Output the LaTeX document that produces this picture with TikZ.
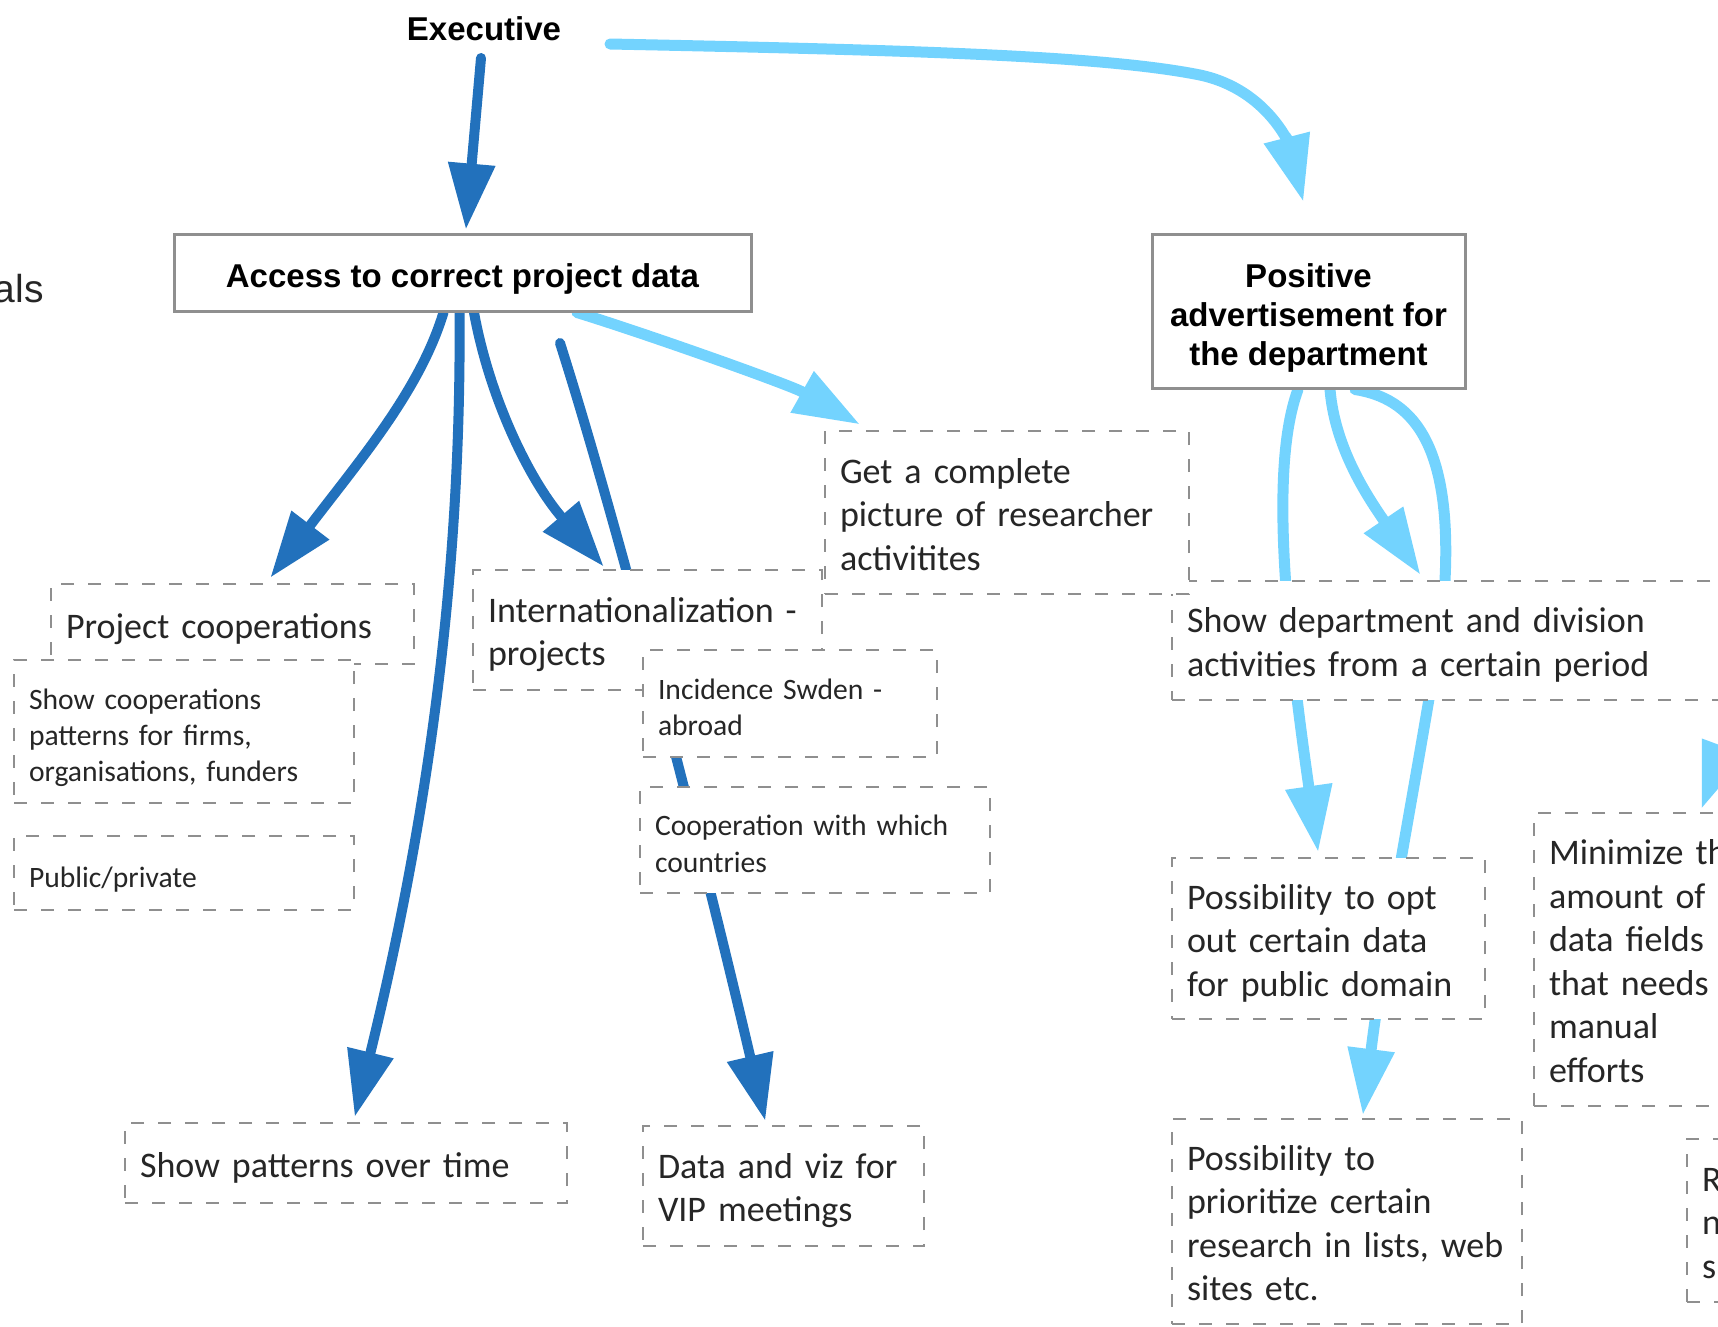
\documentclass[tikz,border=0pt]{standalone}
\usepackage{fontspec}
\setmainfont{Carlito}
\newfontfamily\headfont{Liberation Sans}
\usetikzlibrary{arrows.meta,calc}
\pgfdeclarelayer{bg}
\pgfsetlayers{bg,main}
\definecolor{dkblue}{RGB}{34,113,188}
\definecolor{ltblue}{RGB}{115,211,254}
\definecolor{boxgray}{RGB}{143,143,143}
\definecolor{txtgray}{RGB}{38,38,38}
\begin{document}
\begin{tikzpicture}[x=1pt,y=-1pt,
  dbox/.style={draw=boxgray, line width=2.5pt, dash pattern=on 13pt off 14pt, fill=white, inner xsep=15pt, inner ysep=0pt, align=left, text=txtgray, font=\fontsize{36}{43.5}\selectfont,
    execute at begin node={\rule{0pt}{36.2pt}}, execute at end node={\rule[-8pt]{0pt}{8pt}}},
  sbox/.style={dbox, font=\fontsize{29.6}{36.3}\selectfont,
    execute at begin node={\rule{0pt}{29.6pt}}, execute at end node={\rule[-6.6pt]{0pt}{6.6pt}}},
  headbox/.style={draw=boxgray, line width=3pt, fill=white, inner sep=0pt, align=center, font=\headfont\bfseries\fontsize{33}{39}\selectfont},
  darr/.style={draw=dkblue, line width=10pt, line cap=round, -{Triangle[length=65pt,width=48pt,line width=0pt]}},
  larr/.style={draw=ltblue, line width=11pt, line cap=round, -{Triangle[length=65pt,width=48pt,line width=0pt]}},
]
\useasboundingbox (0,0) rectangle (1718,1326);
\clip (0,0) rectangle (1718,1326);

% header nodes
\node[anchor=base, inner sep=0pt, font=\headfont\bfseries\fontsize{33}{39}\selectfont] (exec) at (484,40) {Executive};
\node[headbox, minimum width=577pt, minimum height=77pt, text height=29pt, text depth=0pt] (acc) at (462.5,272.5) {Access to correct project data};
\node[headbox, minimum width=313pt, minimum height=154pt] (pos) at (1308.5,311) {\rule{0pt}{37pt}Positive\\advertisement for\\the department};
\node[anchor=base east, inner sep=0pt, font=\headfont\fontsize{39}{47}\selectfont, text=txtgray] (als) at (44,302) {als};

% dashed boxes
\node[dbox, minimum width=628pt, minimum height=119pt, text width=598pt] (sdd) at (1486,640.5) {Show department and division\\activities from a certain period};
\node[dbox, minimum width=364pt, minimum height=163pt, text width=334pt] (get) at (1007,512.5) {Get a complete\\picture of researcher\\activitites};
\node[dbox, minimum width=363pt, minimum height=80pt, text width=333pt] (pc) at (232.5,624) {Project cooperations};
\node[sbox, minimum width=340pt, minimum height=143pt, text width=310pt] (sc) at (184,731.5) {Show cooperations\\patterns for firms,\\organisations, funders};
\node[sbox, minimum width=340pt, minimum height=74pt, text width=310pt] (pp) at (184,873) {Public/private};
\node[dbox, minimum width=349pt, minimum height=120pt, text width=319pt] (int) at (647.5,630) {Internationalization -\\projects};
\node[sbox, minimum width=294pt, minimum height=107pt, text width=264pt] (inc) at (790,703.5) {Incidence Swden -\\abroad};
\node[sbox, minimum width=350pt, minimum height=106pt, text width=320pt] (coop) at (815,840) {Cooperation with which\\countries};
\node[dbox, minimum width=442pt, minimum height=80pt, text width=412pt] (spt) at (346,1163) {Show patterns over time};
\node[dbox, minimum width=281pt, minimum height=120pt, text width=251pt] (viz) at (783.5,1186) {Data and viz for\\VIP meetings};
\node[dbox, minimum width=313pt, minimum height=161pt, text width=283pt] (opt) at (1328.5,938.5) {Possibility to opt\\out certain data\\for public domain};
\node[dbox, minimum width=350pt, minimum height=205pt, text width=320pt] (pri) at (1347,1221.5) {Possibility to\\prioritize certain\\research in lists, web\\sites etc.};
\node[dbox, minimum width=240pt, minimum height=293pt, text width=210pt] (min) at (1654,959.5) {Minimize the\\amount of\\data fields\\that needs\\manual\\efforts};
\node[dbox, minimum width=100pt, minimum height=163pt, text width=70pt] (rbx) at (1737,1220.5) {R\\n\\s};

% connectors
\coordinate (a6s) at (560,343);
\coordinate (cvia) at (1445,580);
\begin{pgfonlayer}{bg}
\draw[darr] ($(exec.base)+(-3,18)$) -- ($(acc.north)+(3.5,-4)$);
\draw[larr] ($(exec.base)+(126,4)$) .. controls (900,50) and (1100,55) .. (1200,75) .. controls (1270,90) and (1290,150) .. ($(pos.north)+(-5.5,-32)$);
\draw[darr] ($(acc.south)+(-19,0)$) .. controls (420,390) and (360,460) .. ($(pc.north)+(38.5,-6)$);
\draw[darr] ($(acc.south)+(-3,0)$) .. controls (462,600) and (420,850) .. ($(spt.north)+(9,-6)$);
\draw[darr] ($(acc.south)+(11.5,0)$) .. controls (490,400) and (530,480) .. ($(int.north)+(-44.5,-3)$);
\draw[darr] (a6s) .. controls (610,500) and (690,800) .. ($(viz.north)+(-18.5,-5)$);
\draw[larr] ($(acc.south)+(114.5,0)$) .. controls (650,335) and (790,385) .. ($(get.north west)+(35,-6)$);
\draw[larr] ($(pos.south)+(-10.5,0)$) .. controls (1272,460) and (1282,600) .. ($(opt.north)+(-10.5,-6)$);
\draw[larr] ($(pos.south)+(21.5,0)$) .. controls (1335,450) and (1370,500) .. ($(sdd.north west)+(249,-6)$);
\draw[larr] ($(pos.south)+(46.5,0)$) .. controls (1410,398) and (1452,440) .. (cvia) .. controls (1444,640) and (1390,900) .. ($(pri.north)+(16,-4)$);
\draw[larr] ($(sdd.south east)+(-60,0)$) -- ($(min.north west)+(169,-4)$);
\end{pgfonlayer}
\end{tikzpicture}
\end{document}
